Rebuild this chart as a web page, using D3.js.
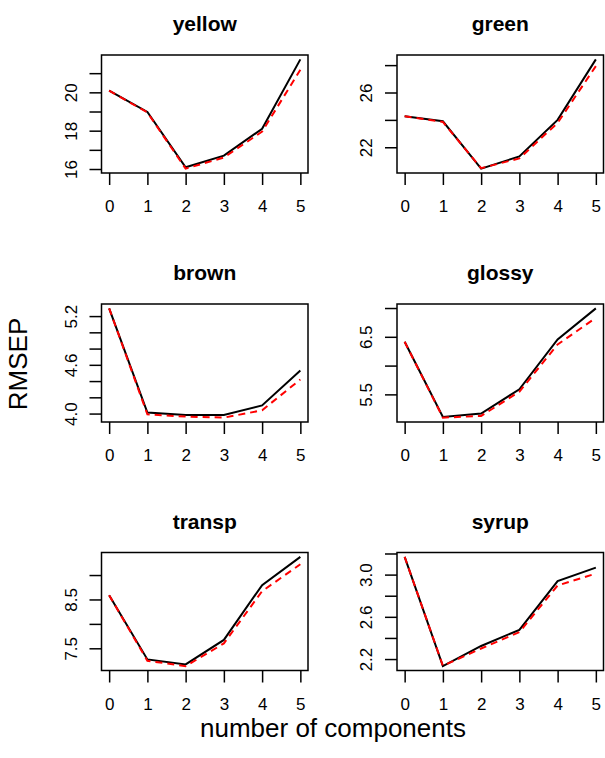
<!DOCTYPE html>
<html>
<head>
<meta charset="utf-8">
<script src="https://cdn.jsdelivr.net/npm/d3@7"></script>
<style>
  body { margin: 0; background: white; }
  svg { display: block; font-family: "Liberation Sans", Arial, sans-serif; }
</style>
</head>
<body>
<div id="chart"></div>
<script>
// responses and number of components
const responses = ['yellow', 'green', 'brown', 'glossy', 'transp', 'syrup']
const comps = [0, 1, 2, 3, 4, 5]

// RMSEP, CV (black solid)
const cvYellow = [20.09, 18.98, 16.09, 16.70, 18.10, 21.72]
const cvGreen  = [24.27, 23.90, 20.44, 21.33, 24.00, 28.42]
const cvBrown  = [5.295, 4.012, 3.983, 3.983, 4.100, 4.530]
const cvGlossy = [6.414, 5.108, 5.166, 5.588, 6.455, 6.994]
const cvTransp = [8.587, 7.273, 7.170, 7.672, 8.794, 9.372]
const cvSyrup  = [3.168, 2.133, 2.324, 2.477, 2.939, 3.066]

// RMSEP, adjCV (red dashed)
const adjYellow = [20.09, 18.95, 16.02, 16.60, 17.95, 21.18]
const adjGreen  = [24.27, 23.85, 20.47, 21.19, 23.78, 27.93]
const adjBrown  = [5.295, 3.990, 3.963, 3.950, 4.040, 4.420]
const adjGlossy = [6.414, 5.096, 5.125, 5.547, 6.367, 6.830]
const adjTransp = [8.587, 7.245, 7.135, 7.600, 8.670, 9.220]
const adjSyrup  = [3.168, 2.136, 2.300, 2.455, 2.897, 3.010]

// y ticks and which of them get a label
const ticksYellow = [16, 17, 18, 19, 20, 21]
const ticksGreen  = [22, 24, 26, 28]
const ticksBrown  = [4.0, 4.2, 4.4, 4.6, 4.8, 5.0, 5.2]
const ticksGlossy = [5.5, 6.0, 6.5, 7.0]
const ticksTransp = [7.5, 8.0, 8.5, 9.0]
const ticksSyrup  = [2.2, 2.4, 2.6, 2.8, 3.0, 3.2]

const labelsYellow = ['16', '18', '20']
const labelsGreen  = ['22', '26']
const labelsBrown  = ['4.0', '4.6', '5.2']
const labelsGlossy = ['5.5', '6.5']
const labelsTransp = ['7.5', '8.5']
const labelsSyrup  = ['2.2', '2.6', '3.0']

const cvSeries  = [cvYellow, cvGreen, cvBrown, cvGlossy, cvTransp, cvSyrup]
const adjSeries = [adjYellow, adjGreen, adjBrown, adjGlossy, adjTransp, adjSyrup]
const tickSets  = [ticksYellow, ticksGreen, ticksBrown, ticksGlossy, ticksTransp, ticksSyrup]
const labelSets = [labelsYellow, labelsGreen, labelsBrown, labelsGlossy, labelsTransp, labelsSyrup]

const width = 605
const height = 758

const boxLeft = [101.5, 397]
const boxTop = [55, 304, 552.5]
const boxW = 206.5
const boxH = 118
const tickLen = 12
const font = 'Liberation Sans, Arial, sans-serif'

const svg = d3.select('#chart')
  .append('svg')
  .attr('width', width)
  .attr('height', height)

responses.forEach(function(name, i) {
  const col = i % 2
  const row = Math.floor(i / 2)

  const g = svg.append('g')
    .attr('transform', `translate(${boxLeft[col]},${boxTop[row]})`)

  const x = d3.scaleLinear()
    .domain([-0.2, 5.2])
    .range([0, boxW])

  // R style: data range padded by 4% on each side
  const ext = d3.extent(cvSeries[i].concat(adjSeries[i]))
  const pad = (ext[1] - ext[0]) * 0.04
  const y = d3.scaleLinear()
    .domain([ext[0] - pad, ext[1] + pad])
    .range([boxH, 0])

  // x axis
  const gx = g.append('g')
    .attr('transform', `translate(0,${boxH})`)
    .call(d3.axisBottom(x)
      .tickValues(comps)
      .tickSize(tickLen)
      .tickPadding(15)
      .tickFormat(d3.format('d')))
  gx.select('.domain').remove()
  gx.selectAll('line').attr('stroke', 'black').attr('stroke-width', 1.5)
  gx.selectAll('text')
    .attr('fill', 'black')
    .attr('font-size', '17px')
    .attr('font-family', font)

  // y axis, labels turned like R's las=0, some left out
  const labelled = labelSets[i]
  const fmt = labelled[0].indexOf('.') >= 0 ? d3.format('.1f') : d3.format('d')
  const gy = g.append('g')
    .call(d3.axisLeft(y)
      .tickValues(tickSets[i])
      .tickSize(tickLen)
      .tickFormat(function(d) {
        const s = fmt(d)
        return labelled.indexOf(s) >= 0 ? s : ''
      }))
  gy.select('.domain').remove()
  gy.selectAll('line').attr('stroke', 'black').attr('stroke-width', 1.5)
  gy.selectAll('text')
    .attr('fill', 'black')
    .attr('font-size', '17px')
    .attr('font-family', font)
    .attr('x', null)
    .attr('dy', null)
    .attr('text-anchor', 'middle')
    .attr('transform', 'translate(-25,0) rotate(-90)')

  // frame
  g.append('rect')
    .attr('x', 0)
    .attr('y', 0)
    .attr('width', boxW)
    .attr('height', boxH)
    .attr('fill', 'none')
    .attr('stroke', 'black')
    .attr('stroke-width', 1.5)

  const line = d3.line()
    .x(function(d, j) { return x(comps[j]) })
    .y(function(d) { return y(d) })

  g.append('path')
    .datum(cvSeries[i])
    .attr('d', line)
    .attr('fill', 'none')
    .attr('stroke', 'black')
    .attr('stroke-width', 2)

  g.append('path')
    .datum(adjSeries[i])
    .attr('d', line)
    .attr('fill', 'none')
    .attr('stroke', '#ff0000')
    .attr('stroke-width', 2)
    .attr('stroke-dasharray', '7,5')

  // panel title
  g.append('text')
    .attr('x', boxW / 2)
    .attr('y', -24)
    .attr('text-anchor', 'middle')
    .attr('font-size', '21px')
    .attr('font-weight', 'bold')
    .attr('fill', 'black')
    .text(name)
})

// outer labels
svg.append('text')
  .attr('transform', 'translate(27,364) rotate(-90)')
  .attr('text-anchor', 'middle')
  .attr('font-size', '26px')
  .attr('fill', 'black')
  .text('RMSEP')

svg.append('text')
  .attr('x', 333)
  .attr('y', 737)
  .attr('text-anchor', 'middle')
  .attr('font-size', '26px')
  .attr('fill', 'black')
  .text('number of components')
</script>
</body>
</html>
